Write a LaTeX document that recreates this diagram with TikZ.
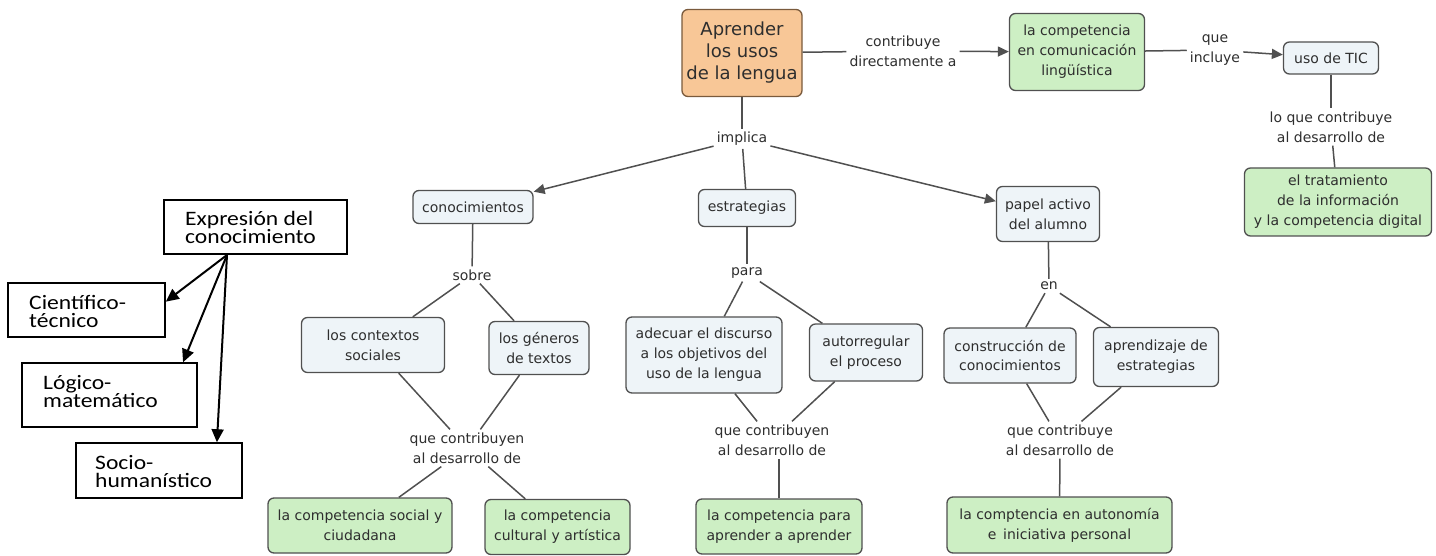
\documentclass[tikz,border=0pt]{standalone}
\usepackage{fontspec}
\usetikzlibrary{arrows.meta}
\newfontfamily\cmfont{DejaVu Sans}
\newfontfamily\lbfont[FakeStretch=1.15]{Carlito}
\definecolor{bluefill}{HTML}{EEF4F8}
\definecolor{greenfill}{HTML}{CDEFC4}
\definecolor{orangefill}{HTML}{F8C797}
\definecolor{bordergray}{HTML}{505050}
\definecolor{orangeborder}{HTML}{7A5A3C}
\definecolor{txtgray}{HTML}{2E2E2E}
\tikzset{
  cbox/.style={draw=bordergray, line width=1.3pt, rounded corners=6pt, fill=bluefill,
    align=center, text=txtgray, inner sep=2pt,
    font=\cmfont\fontsize{14}{20}\selectfont},
  gbox/.style={cbox, fill=greenfill},
  obox/.style={cbox, fill=orangefill, draw=orangeborder,
    font=\cmfont\fontsize{18}{22}\selectfont},
  lab/.style={align=center, text=txtgray, inner sep=3pt,
    font=\cmfont\fontsize{14}{20}\selectfont},
  conn/.style={draw=bordergray, line width=1.5pt},
  carr/.style={conn, -{Triangle[length=11pt,width=10pt]}},
  lbox/.style={draw=black, line width=1.5pt, fill=white, inner sep=0pt},
  ltext/.style={align=left, inner sep=0pt, anchor=west,
    font=\lbfont\fontsize{20.5}{18}\selectfont},
  larr/.style={draw=black, line width=2pt, -{Triangle[length=13pt,width=12pt]}}
}
\begin{document}
\begin{tikzpicture}[x=1pt,y=-1pt]
\useasboundingbox (0,0) rectangle (1436,556);

% ---- concept map nodes ----
\node[obox, minimum width=120, minimum height=87] (apr) at (742,53) {Aprender\\los usos\\de la lengua};
\node[gbox, minimum width=135, minimum height=77] (cel) at (1077,52) {la competencia\\en comunicación\\lingüística};
\node[cbox, minimum width=95, minimum height=32] (tic) at (1331,58) {uso de TIC};
\node[gbox, minimum width=187, minimum height=68] (tra) at (1338,202) {el tratamiento\\de la información\\y la competencia digital};

\node[lab] (contr) at (903,51) {contribuye\\directamente a};
\node[lab] (qinc) at (1215,50) {que\\incluye};
\node[lab] (loq) at (1331,127) {lo que contribuye\\al desarrollo de};
\node[lab] (impl) at (742,139) {implica};

\node[cbox, minimum width=120, minimum height=33] (cono) at (473,207) {conocimientos};
\node[cbox, minimum width=97, minimum height=37] (estr) at (747,208) {estrategias};
\node[cbox, minimum width=103, minimum height=55] (pap) at (1048,214) {papel activo\\del alumno};

\node[lab] (sobre) at (472,275) {sobre};
\node[lab] (para) at (747,273) {para};
\node[lab] (en) at (1049,286) {en};

\node[cbox, minimum width=143, minimum height=55] (ctx) at (373,345) {los contextos\\sociales};
\node[cbox, minimum width=100, minimum height=53] (gen) at (539,348) {los géneros\\de textos};
\node[cbox, minimum width=156, minimum height=76] (ade) at (704,355) {adecuar el discurso\\a los objetivos del\\uso de la lengua};
\node[cbox, minimum width=113, minimum height=57] (aut) at (866,352.5) {autorregular\\el proceso};
\node[cbox, minimum width=132, minimum height=55] (con) at (1010,355.5) {construcción de\\conocimientos};
\node[cbox, minimum width=125, minimum height=59] (apz) at (1156,357) {aprendizaje de\\estrategias};

\node[lab] (qc1) at (467,448) {que contribuyen\\al desarrollo de};
\node[lab] (qc2) at (772,440) {que contribuyen\\al desarrollo de};
\node[lab] (qc3) at (1060,440) {que contribuye\\al desarrollo de};

\node[gbox, minimum width=184, minimum height=55] (soc1) at (360,525.5) {la competencia social y\\ciudadana};
\node[gbox, minimum width=145, minimum height=55] (cult) at (557.5,527) {la competencia\\cultural y artística};
\node[gbox, minimum width=166, minimum height=55] (apa) at (779,526.5) {la competencia para\\aprender a aprender};
\node[gbox, minimum width=225, minimum height=56] (auto) at (1059.5,525) {la comptencia en autonomía\\e\, iniciativa personal};

% ---- concept map connectors ----
\draw[conn] (apr) -- (contr);
\draw[carr] (contr) -- (cel);
\draw[conn] (cel) -- (qinc);
\draw[carr] (qinc) -- (tic);
\draw[conn] (tic) -- (loq);
\draw[conn] (loq) -- (tra);

\draw[conn] (apr) -- (impl);
\draw[carr] (impl) -- (cono);
\draw[conn] (impl) -- (estr);
\draw[carr] (impl) -- (pap);

\draw[conn] (cono) -- (sobre);
\draw[conn] (sobre) -- (ctx);
\draw[conn] (sobre) -- (gen);
\draw[conn] (estr) -- (para);
\draw[conn] (para) -- (ade);
\draw[conn] (para) -- (aut);
\draw[conn] (pap) -- (en);
\draw[conn] (en) -- (con);
\draw[conn] (en) -- (apz);

\draw[conn] (ctx) -- (qc1);
\draw[conn] (gen) -- (qc1);
\draw[conn] (qc1) -- (soc1);
\draw[conn] (qc1) -- (cult);
\draw[conn] (ade) -- (qc2);
\draw[conn] (aut) -- (qc2);
\draw[conn] (apa.north) -- (apa.north |- qc2.south);
\draw[conn] (con) -- (qc3);
\draw[conn] (apz) -- (qc3);
\draw[conn] (qc3) -- (auto);

% ---- left boxes ----
\node[lbox, minimum width=183, minimum height=54] (exp) at (255.5,227) {};
\node[ltext] (expT) at (185,227) {Expresión del\\conocimiento};
\node[lbox, minimum width=157, minimum height=54] (cie) at (86.5,310) {};
\node[ltext] (cieT) at (29,311) {Científico-\\técnico};
\node[lbox, minimum width=175, minimum height=64] (log) at (109.5,395) {};
\node[ltext] (logT) at (43,392) {Lógico-\\matemático};
\node[lbox, minimum width=166, minimum height=55] (soc) at (159,470.5) {};
\begin{scope}
  \clip (77,444) rectangle (241,487);
  \node[ltext] (socT) at (95,472) {Socio-\\humanístico};
\end{scope}

\coordinate (ea) at (227,255);
\draw[larr] (ea) -- (cie.6);
\draw[larr] (ea) -- (log.24);
\draw[larr] (ea) -- (soc.26);
\end{tikzpicture}
\end{document}
